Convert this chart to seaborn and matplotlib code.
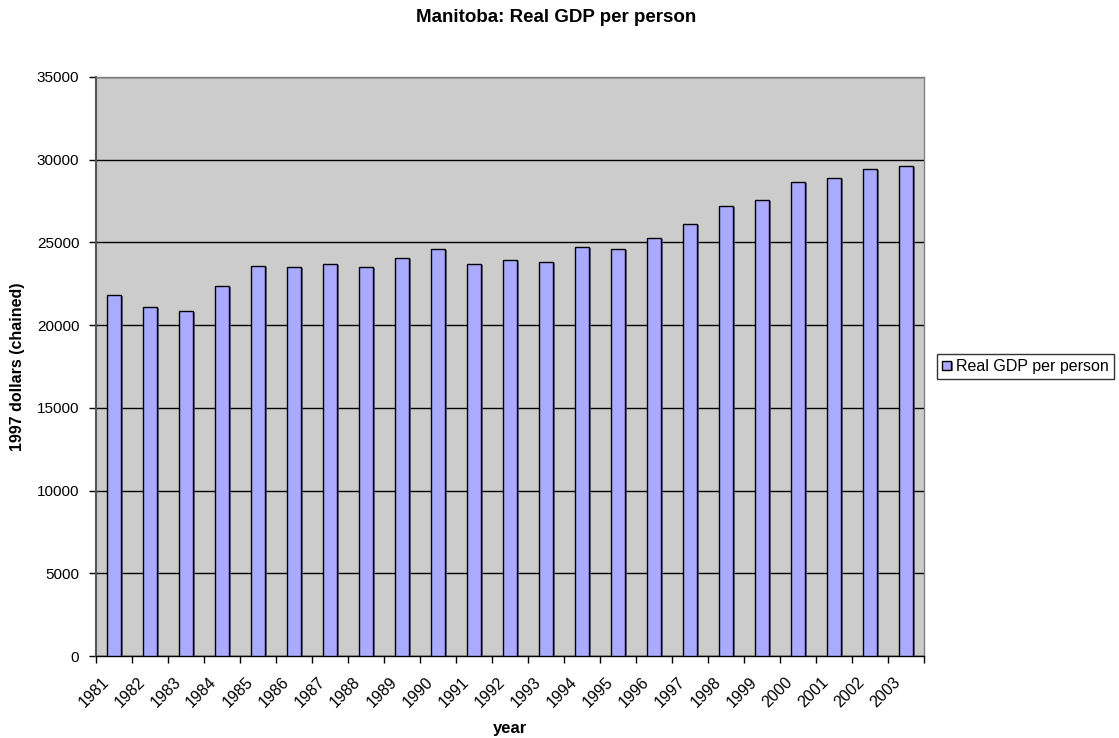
import matplotlib
matplotlib.use("Agg")
import matplotlib.pyplot as plt
import matplotlib.patheffects as pe
from matplotlib.ticker import FixedLocator, MultipleLocator
from matplotlib.transforms import ScaledTranslation
import seaborn as sns
import pandas as pd
import numpy as np

years = [str(y) for y in range(1981, 2004)]
gdp_per_person = [21830, 21080, 20840, 22390, 23600, 23500, 23720, 23500,
                  24040, 24590, 23700, 23920, 23800, 24710, 24590, 25250,
                  26120, 27230, 27550, 28660, 28880, 29430, 29640]
series_name = "Real GDP per person"

df = pd.DataFrame({"year": years, "value": gdp_per_person, "series": series_name})

sns.set_theme(style="white")
plt.rcParams["font.family"] = ["Liberation Sans", "DejaVu Sans"]
plt.rcParams.update({"text.color": "black", "axes.labelcolor": "black",
                     "xtick.color": "black", "ytick.color": "black"})

fig = plt.figure(figsize=(11.19, 7.38), dpi=100)
ax = fig.add_axes([0.0858, 0.1111, 0.8257 - 0.0858, 0.8957 - 0.1111])
ax.set_facecolor("#CCCCCC")

sns.barplot(data=df, x="year", y="value", hue="series", palette=["#AAAAFF"],
            width=0.4, edgecolor="black", linewidth=1.0, saturation=1,
            ax=ax, zorder=3, legend=True)

for bar in ax.patches:
    bar.set_path_effects([pe.SimplePatchShadow(offset=(1.5, -0.8), shadow_rgbFace="#555566", alpha=0.8),
                          pe.Normal()])

ax.set_ylim(0, 35000)
ax.set_xlim(-0.5, len(years) - 0.5)
ax.yaxis.set_major_locator(MultipleLocator(5000))
ax.grid(axis="y", color="black", linewidth=1.0, zorder=1)
ax.set_axisbelow(True)

# category labels at centres, tick marks at category boundaries
ax.set_xticks(np.arange(len(years)))
ax.xaxis.set_minor_locator(FixedLocator(np.arange(-0.5, len(years), 1.0)))
ax.tick_params(axis="x", which="major", length=0, pad=4)
ax.tick_params(axis="x", which="minor", length=5, width=1, color="black", direction="out", bottom=True)
ax.tick_params(axis="y", which="major", length=5, width=1, color="black", direction="out",
               left=True, labelsize=11, pad=7)
ax.set_xticklabels(years, rotation=45, ha="right", rotation_mode="anchor", fontsize=11.5)
shift = ScaledTranslation(-13 / 100, -13 / 100, fig.dpi_scale_trans)
for tick in ax.xaxis.get_major_ticks():
    tick.label1.set_transform(tick.label1.get_transform() + shift)

for side in ["top", "right"]:
    ax.spines[side].set_color("#808080")
    ax.spines[side].set_linewidth(1.0)
ax.spines["left"].set_color("#555555")
ax.spines["left"].set_linewidth(1.5)
ax.spines["bottom"].set_color("black")
ax.spines["bottom"].set_linewidth(1.0)

ax.set_xlabel("year", fontsize=12, fontweight="bold")
ax.xaxis.set_label_coords(0.5, -(728 - 656) / 579, transform=ax.transAxes)
ax.xaxis.label.set_va("center")
ax.set_ylabel("1997 dollars (chained)", fontsize=11.5, fontweight="bold")
ax.yaxis.set_label_coords(-(96 - 17) / 828, 0.5, transform=ax.transAxes)
ax.yaxis.label.set_va("center")
fig.suptitle("Manitoba: Real GDP per person", fontsize=13.5, fontweight="bold",
             x=556 / 1119, y=1 - 18 / 738, va="center")

handles, labels = ax.get_legend_handles_labels()
leg = ax.legend(handles[:1], labels[:1], loc="center left", bbox_to_anchor=(1 + 13 / 828, 0.5),
                frameon=True, fancybox=False, edgecolor="black", fontsize=11.5,
                handlelength=0.55, handleheight=0.55, handletextpad=0.35, borderpad=0.3,
                borderaxespad=0)
leg.get_frame().set_linewidth(1.0)

fig.savefig("out.png", dpi=100, facecolor="white")
